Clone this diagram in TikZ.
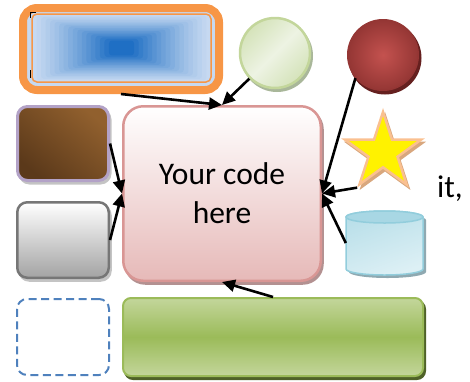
\documentclass[tikz,border=0pt]{standalone}
\usepackage{fontspec}
\setmainfont{Carlito}
\usetikzlibrary{arrows.meta,shapes.geometric,shadows}

\definecolor{frameorange}{HTML}{F79646}
\definecolor{paleblue}{HTML}{C6D9F1}
\definecolor{deepblue}{HTML}{1F6FC4}
\definecolor{sageedge}{HTML}{C3D69B}
\definecolor{sagelight}{HTML}{EDF3E3}
\definecolor{sagemid}{HTML}{D5E3BA}
\definecolor{sageshadow}{HTML}{A9B79A}
\definecolor{rubyin}{HTML}{C4524F}
\definecolor{rubyout}{HTML}{943634}
\definecolor{rubyshadow}{HTML}{65201F}
\definecolor{staredge}{HTML}{FAC090}
\definecolor{starshadow}{HTML}{D8A77E}
\definecolor{cylA}{HTML}{B9DFE9}
\definecolor{cylB}{HTML}{DDF0F5}
\definecolor{cyltop}{HTML}{A8D7E4}
\definecolor{cyledge}{HTML}{92CDDC}
\definecolor{cylshadow}{HTML}{8FA9B1}
\definecolor{roseedge}{HTML}{D99694}
\definecolor{rosebottom}{HTML}{E6B9B8}
\definecolor{roseshadow}{HTML}{B39191}
\definecolor{browndark}{HTML}{5B391A}
\definecolor{brownlight}{HTML}{91602E}
\definecolor{lilac}{HTML}{B3A2C7}
\definecolor{greyedge}{HTML}{767676}
\definecolor{greybottom}{HTML}{A3A3A3}
\definecolor{greyshadow}{HTML}{C4C4C4}
\definecolor{dashblue}{HTML}{4F81BD}
\definecolor{leaflight}{HTML}{C3D69B}
\definecolor{leafmid}{HTML}{9BBB59}
\definecolor{leafshadow}{HTML}{4F6228}

\newcommand\bigtext{\fontsize{31.5}{39}\selectfont}

\begin{document}
\begin{tikzpicture}[x=1pt,y=-1pt,
  castshadow/.style={general shadow={fill=#1, draw=#1, line width=2pt,
      shadow xshift=2pt, shadow yshift=-3pt}},
  tile/.style={rectangle, inner sep=0pt, rounded corners=10pt},
  conn/.style={line width=2.6pt, draw=black, -{Triangle[length=13pt,width=12pt]}}
]
\useasboundingbox (0,0) rectangle (470,381);

% orange framed panel with a rectangular blue gradient
\node[rectangle, inner sep=0pt, rounded corners=14pt, draw=frameorange,
      line width=8pt, fill=paleblue, minimum width=196pt, minimum height=82pt]
      (frame) at (121,49) {};
\foreach \i in {0,...,17}{
  \pgfmathsetmacro\hw{89.5*(1-\i*0.86/17)}
  \pgfmathsetmacro\hh{34*(1-\i*0.78/17)}
  \pgfmathsetmacro\p{100*(\i/17)^1.2}
  \fill[deepblue!\p!paleblue, rounded corners=3pt]
    (121.5-\hw,48-\hh) rectangle (121.5+\hw,48+\hh);
}
\draw[frameorange, line width=1.5pt, rounded corners=5pt] (32,14) rectangle (211,82);
\draw[black, line width=1pt] (36,12.5) -- (30.5,12.5) -- (30.5,18);
\draw[black, line width=1pt] (30.5,70) -- (30.5,78);

% round badges
\node[circle, inner sep=0pt, minimum size=70pt, draw=sageedge, line width=2.5pt,
      castshadow=sageshadow, shading=axis, top color=sagemid, bottom color=sagemid,
      middle color=sagelight, shading angle=45] (sage) at (275,53) {};
\node[circle, inner sep=0pt, minimum size=71pt, draw=rubyout, line width=1pt,
      castshadow=rubyshadow, inner color=rubyin, outer color=rubyout] (ruby) at (383,55) {};

% star
\node[star, star points=5, star point ratio=2.618, minimum size=80pt, inner sep=0pt,
      fill=yellow, draw=staredge, line width=2.5pt, castshadow=starshadow]
      (star) at (383,152) {};

% cylinder
\fill[cylshadow, xshift=3pt, yshift=-3pt]
  (346,217) -- (346,269) arc[start angle=180, end angle=360, x radius=38.5pt, y radius=6pt]
  -- (423,217) arc[start angle=0, end angle=180, x radius=38.5pt, y radius=6pt] -- cycle;
\draw[cyledge, line width=1.5pt, left color=cylA, right color=cylB, shading angle=20]
  (346,217) -- (346,269) arc[start angle=180, end angle=360, x radius=38.5pt, y radius=6pt]
  -- (423,217) arc[start angle=0, end angle=180, x radius=38.5pt, y radius=6pt] -- cycle;
\filldraw[fill=cyltop, draw=cyledge, line width=1.5pt]
  (384.5,217) ellipse[x radius=38.5pt, y radius=6pt];
\node[rectangle, inner sep=0pt, minimum width=77pt, minimum height=64pt] (cyl) at (384.5,243) {};

% central panel
\node[rectangle, inner sep=0pt, rounded corners=20pt, draw=roseedge, line width=2.5pt,
      castshadow=roseshadow, top color=white, bottom color=rosebottom,
      minimum width=197.5pt, minimum height=174.5pt, align=center, font=\bigtext]
      (main) at (222,193.5) {Your code\\here};

% left column tiles
\node[tile, draw=lilac, line width=3pt, castshadow=greyshadow,
      shading=axis, top color=brownlight, bottom color=browndark, shading angle=-40,
      minimum width=91pt, minimum height=74pt] (brown) at (63,143.5) {};
\node[tile, draw=greyedge, line width=2.5pt, castshadow=greyshadow,
      top color=white, bottom color=greybottom,
      minimum width=91.5pt, minimum height=75.5pt] (grey) at (63,240) {};
\node[tile, draw=dashblue, line width=2pt, dash pattern=on 8pt off 4.5pt,
      minimum width=92pt, minimum height=76pt] (dashed) at (63,337) {};

% green bar
\node[rectangle, inner sep=0pt, rounded corners=8pt, draw=leafmid, line width=2pt,
      castshadow=leafshadow, top color=leaflight, bottom color=leaflight, middle color=leafmid,
      minimum width=300pt, minimum height=78pt] (bar) at (273,337) {};

% trailing text
\node[anchor=base west, inner sep=0pt, font=\bigtext] (tail) at (437,197) {it,};

% connectors
\draw[conn] (frame.south) -- (main.north);
\draw[conn] (sage.south west) -- (main.north);
\draw[conn] (ruby.220) -- (main.east);
\draw[conn] (star.234) -- (main.east);
\draw[conn] (cyl.west) -- (main.east);
\draw[conn] (brown.east) -- (main.west);
\draw[conn] (grey.east) -- (main.west);
\draw[conn] (bar.north) -- (main.south);
\end{tikzpicture}
\end{document}
